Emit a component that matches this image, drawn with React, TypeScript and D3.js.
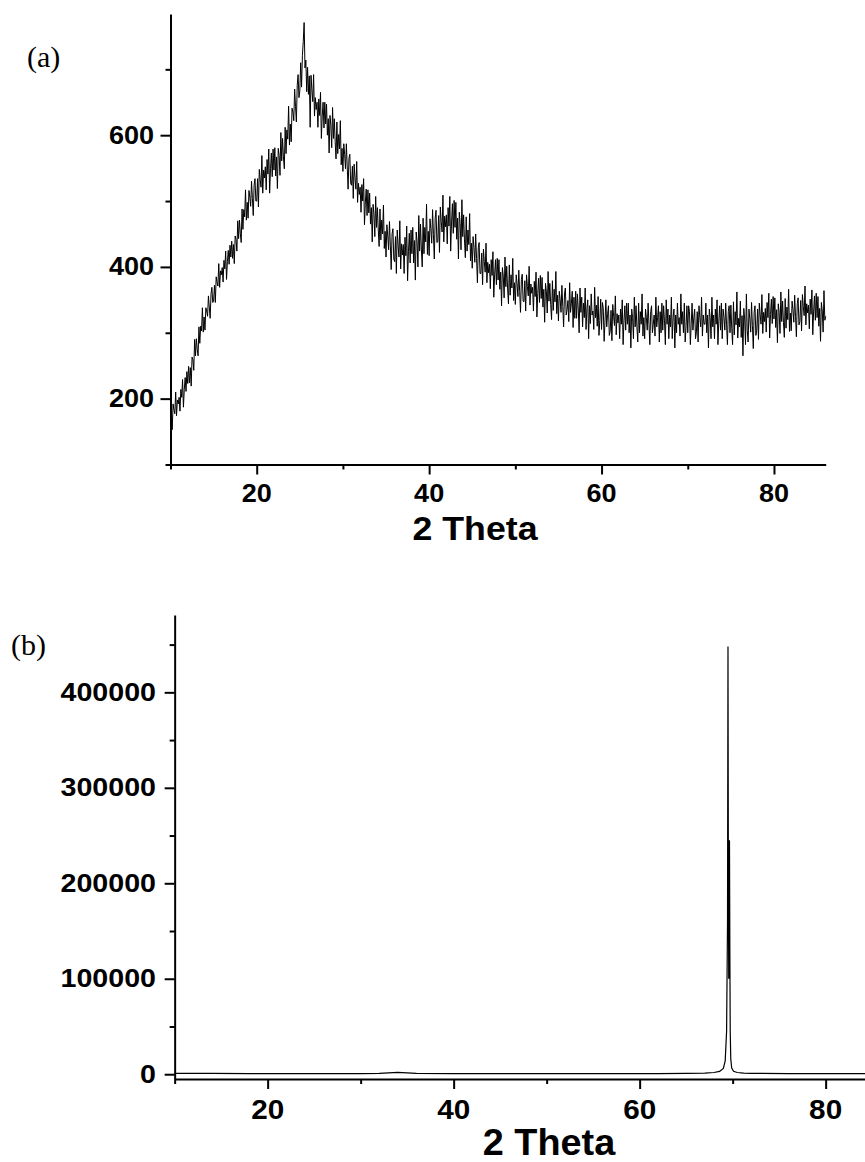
import React, { useEffect, useRef } from 'react';
import * as d3 from 'd3';

// (a) broad amorphous hump, scanned 10..86 deg in 0.1 deg steps (one row per degree)
const scanAStart = 10;
const scanAStep = 0.1;
const countsA = [
  156, 180, 153, 192, 183, 177, 210, 174, 198, 192,
  202, 181, 214, 202, 229, 187, 214, 232, 211, 241,
  223, 249, 224, 247, 219, 263, 259, 243, 290, 265,
  291, 275, 265, 309, 284, 310, 303, 338, 301, 324,
  304, 338, 333, 325, 356, 339, 322, 359, 369, 346,
  348, 372, 346, 385, 377, 371, 405, 369, 394, 388,
  399, 377, 410, 397, 424, 381, 408, 425, 404, 433,
  415, 439, 413, 434, 405, 447, 442, 424, 470, 443,
  471, 451, 437, 488, 457, 487, 476, 517, 471, 498,
  474, 516, 506, 492, 530, 504, 478, 524, 534, 500,
  500, 534, 491, 548, 533, 521, 569, 512, 547, 535,
  552, 517, 563, 541, 579, 512, 549, 573, 537, 579,
  547, 581, 538, 567, 519, 580, 569, 539, 604, 561,
  595, 567, 549, 612, 572, 608, 594, 644, 585, 617,
  590, 641, 635, 622, 670, 644, 620, 676, 692, 657,
  667, 710, 673, 721, 742, 771, 702, 714, 666, 703,
  662, 690, 612, 691, 669, 651, 692, 629, 657, 639,
  650, 612, 655, 630, 665, 595, 629, 650, 611, 650,
  617, 647, 600, 625, 573, 630, 615, 581, 642, 595,
  625, 590, 564, 620, 572, 601, 579, 622, 555, 580,
  545, 587, 571, 549, 587, 552, 518, 565, 571, 527,
  524, 553, 504, 556, 535, 518, 560, 498, 527, 510,
  521, 483, 525, 500, 534, 464, 497, 518, 478, 517,
  482, 512, 465, 490, 438, 495, 480, 446, 507, 460,
  490, 456, 431, 488, 441, 471, 450, 494, 428, 454,
  415, 464, 447, 426, 469, 433, 396, 450, 458, 412,
  408, 446, 390, 456, 433, 415, 470, 397, 435, 418,
  434, 390, 445, 417, 462, 379, 423, 451, 406, 456,
  420, 460, 406, 440, 380, 453, 438, 400, 478, 424,
  465, 427, 400, 474, 420, 460, 438, 495, 419, 454,
  417, 473, 458, 436, 487, 449, 412, 474, 486, 437,
  438, 478, 422, 491, 469, 453, 509, 438, 477, 461,
  479, 435, 490, 462, 507, 424, 468, 496, 451, 501,
  460, 498, 442, 474, 412, 483, 466, 426, 502, 446,
  479, 441, 414, 476, 424, 456, 434, 481, 409, 436,
  398, 446, 429, 407, 450, 413, 376, 429, 437, 390,
  390, 421, 373, 427, 408, 392, 436, 376, 407, 391,
  404, 367, 411, 387, 423, 354, 389, 411, 373, 413,
  380, 411, 366, 392, 341, 399, 386, 353, 415, 370,
  401, 368, 344, 403, 357, 388, 368, 413, 349, 376,
  343, 388, 374, 355, 395, 363, 331, 381, 389, 348,
  347, 379, 333, 388, 370, 356, 401, 342, 374, 360,
  369, 333, 378, 355, 392, 324, 360, 383, 346, 387,
  352, 384, 339, 366, 316, 375, 362, 330, 393, 348,
  375, 343, 320, 379, 334, 366, 347, 393, 329, 357,
  318, 363, 350, 331, 372, 340, 309, 359, 368, 327,
  335, 349, 317, 376, 331, 345, 363, 308, 354, 322,
  363, 322, 359, 336, 300, 368, 331, 354, 309, 345,
  323, 368, 305, 337, 350, 291, 341, 314, 359, 327,
  333, 305, 369, 323, 342, 310, 355, 296, 319, 351,
  305, 346, 337, 287, 318, 350, 309, 328, 341, 296,
  302, 334, 288, 343, 325, 311, 356, 297, 329, 315,
  327, 291, 336, 313, 350, 282, 318, 341, 304, 345,
  313, 345, 300, 327, 277, 336, 323, 291, 354, 309,
  341, 309, 286, 345, 300, 332, 313, 359, 295, 323,
  291, 336, 323, 304, 345, 313, 282, 332, 341, 300,
  313, 327, 295, 354, 309, 323, 341, 286, 332, 300,
  345, 304, 341, 318, 282, 350, 313, 336, 291, 327,
  309, 354, 291, 323, 336, 277, 327, 300, 345, 313,
  323, 295, 359, 313, 332, 300, 345, 286, 309, 341,
  300, 341, 332, 282, 313, 345, 304, 323, 336, 291,
  300, 332, 286, 341, 323, 309, 354, 295, 327, 313,
  313, 345, 300, 327, 277, 336, 323, 291, 354, 309,
  327, 291, 336, 313, 350, 282, 318, 341, 304, 345,
  291, 336, 323, 304, 345, 313, 282, 332, 341, 300,
  342, 307, 282, 347, 297, 332, 312, 362, 292, 322,
  309, 348, 293, 326, 265, 337, 321, 282, 359, 304,
  286, 336, 321, 301, 346, 311, 276, 331, 341, 296,
  304, 336, 290, 345, 327, 313, 358, 299, 331, 317,
  337, 301, 346, 323, 360, 292, 328, 351, 314, 355,
  321, 353, 308, 335, 285, 344, 331, 299, 362, 317,
  348, 316, 293, 352, 307, 339, 320, 366, 302, 330,
  303, 348, 335, 316, 357, 325, 294, 344, 353, 312,
  317, 349, 303, 358, 340, 326, 371, 312, 344, 330,
  342, 306, 351, 328, 365, 297, 333, 356, 319, 360,
  323, 355, 310, 337, 287, 346, 333, 301, 364, 319,
  325,
];
const yTicksA = [200, 400, 600];
const yMinorA = [100, 300, 500, 700];

// (b) single crystal substrate peak
const thetaB = [
  10, 14, 18, 22, 26, 30, 32, 33, 34, 35, 36, 40, 46, 52, 58, 62, 65, 67,
  68, 68.6, 69.0, 69.2, 69.35, 69.45, 69.5, 69.54, 69.58, 69.62, 69.66, 69.7,
  69.74, 69.8, 69.9, 70.1, 70.5, 71.2, 72, 76, 80, 84.4,
];
const countsB = [
  900, 800, 700, 650, 650, 700, 900, 1400, 2000, 1500, 900, 700, 600, 550, 600, 650, 800, 1200,
  1800, 3000, 6000, 14000, 45000, 160000, 448000, 210000, 100000, 130000, 245000, 130000,
  45000, 16000, 6500, 3000, 1800, 1100, 900, 700, 600, 550,
];
const yTicksB = [0, 100000, 200000, 300000, 400000];
const yMinorB = [50000, 150000, 250000, 350000, 450000];

const xTicks = [20, 40, 60, 80];
const xMinor = [10, 30, 50, 70];

const FONT = 'Arial, "Liberation Sans", sans-serif';

const App = () => {
  const svgRef = useRef<SVGSVGElement>(null);

  useEffect(() => {
    const svg = d3.select(svgRef.current);
    svg.selectAll('*').remove();

    const stretchText = (g, x, y, txt, size, sx, anchor, family = FONT, weight = 'bold') =>
      g.append('text')
        .attr('transform', `translate(${x},${y}) scale(${sx},1)`)
        .attr('text-anchor', anchor)
        .style('font-family', family)
        .style('font-weight', weight)
        .style('font-size', `${size}px`)
        .attr('fill', '#000')
        .text(txt);

    const drawPanel = (opt) => {
      const { x, y, data, yTicks, yMinor, yFmt, tick, title, letter } = opt;
      const g = svg.append('g');

      // data line
      g.append('path')
        .datum(data)
        .attr('fill', 'none')
        .attr('stroke', '#000')
        .attr('stroke-width', opt.lineW)
        .attr('d', d3.line<[number, number]>().x(d => x(d[0])).y(d => y(d[1])));

      const x0 = x.range()[0];
      const y0 = y.range()[0];

      // minor ticks first, then the major ones with the spine
      g.append('g').attr('transform', `translate(${x0},0)`)
        .call(d3.axisLeft(y).tickValues(yMinor).tickSize(5).tickSizeOuter(0).tickFormat(() => ''))
        .call(s => s.select('.domain').remove());
      g.append('g').attr('transform', `translate(0,${y0})`)
        .call(d3.axisBottom(x).tickValues(xMinor).tickSize(5).tickSizeOuter(0).tickFormat(() => ''))
        .call(s => s.select('.domain').remove());

      g.append('g').attr('transform', `translate(${x0},0)`)
        .call(d3.axisLeft(y).tickValues(yTicks).tickSize(10).tickSizeOuter(0).tickFormat(() => ''));
      g.append('g').attr('transform', `translate(0,${y0})`)
        .call(d3.axisBottom(x).tickValues(xTicks).tickSize(10).tickSizeOuter(0).tickFormat(() => ''));

      g.selectAll('.tick line').attr('stroke', '#000').attr('stroke-width', 2);
      g.selectAll('.domain').attr('stroke', '#000').attr('stroke-width', 2);

      // tick labels
      yTicks.forEach(v => stretchText(g, tick.yRight, y(v) + tick.ySize * 0.33, yFmt(v), tick.ySize, tick.sx, 'end'));
      xTicks.forEach(v => stretchText(g, x(v), tick.xBase, String(v), tick.xSize, tick.sx, 'middle'));

      stretchText(g, title.x, title.y, '2 Theta', title.size, title.sx, 'middle');
      stretchText(g, letter.x, letter.y, letter.text, letter.size, 1, 'start',
        '"Times New Roman", "Liberation Serif", serif', 'normal');
    };

    // panel (a)
    const xA = d3.scaleLinear().domain([10, 86]).range([170.5, 825.7]);
    const yA = d3.scaleLinear().domain([100, 784]).range([464.5, 14]);
    const dataA = countsA.map((c, i) => [scanAStart + i * scanAStep, c]);
    drawPanel({
      x: xA, y: yA, data: dataA, yTicks: yTicksA, yMinor: yMinorA, yFmt: d3.format('d'),
      lineW: 1,
      tick: { yRight: 154, ySize: 26, xSize: 26, xBase: 502, sx: 1.04 },
      title: { x: 475, y: 540, size: 34, sx: 1.05 },
      letter: { x: 27, y: 67, text: '(a)', size: 30 },
    });

    // panel (b)
    const xB = d3.scaleLinear().domain([10, 84.34]).range([174.65, 866]);
    const yB = d3.scaleLinear().domain([-5000, 481000]).range([1079, 615]);
    const dataB = thetaB.map((t, i) => [t, countsB[i]]);
    drawPanel({
      x: xB, y: yB, data: dataB, yTicks: yTicksB, yMinor: yMinorB, yFmt: d3.format('d'),
      lineW: 1.2,
      tick: { yRight: 156, ySize: 26, xSize: 27, xBase: 1119, sx: 1.1 },
      title: { x: 549, y: 1155, size: 36, sx: 1.05 },
      letter: { x: 11, y: 655, text: '(b)', size: 30 },
    });
  }, []);

  return (
    <svg
      ref={svgRef}
      width={865}
      height={1162}
      style={{ position: 'absolute', left: 0, top: 0, background: '#fff', display: 'block' }}
    />
  );
};

export default App;
